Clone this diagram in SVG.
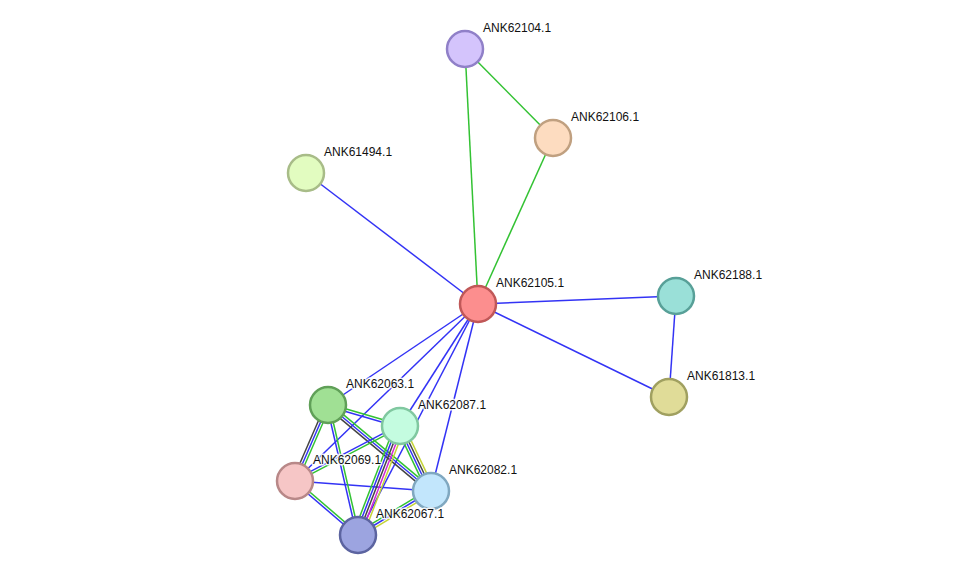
<svg xmlns="http://www.w3.org/2000/svg" width="975" height="581" viewBox="0 0 975 581">
<style>
line{stroke-width:1.5;fill:none}
.g{stroke:#33c233}.b{stroke:#3333f5}.k{stroke:#444444}.m{stroke:#d228d2}.y{stroke:#c4d436}
.node circle{stroke-width:2.5}
.lbl{font-family:"Liberation Sans",Arial,sans-serif;font-size:12px;fill:#111;stroke:#fff;stroke-width:3;stroke-opacity:0.85;paint-order:stroke;stroke-linejoin:round}
</style>
<rect width="975" height="581" fill="#fff"/>
<g id="connectors">
<line class="g" x1="478" y1="304" x2="465" y2="49"/>
<line class="g" x1="465" y1="49" x2="553" y2="138"/>
<line class="g" x1="553" y1="138" x2="478" y2="304"/>
<line class="b" x1="478" y1="304" x2="306" y2="173"/>
<line class="b" x1="478" y1="304" x2="676" y2="296"/>
<line class="b" x1="478" y1="304" x2="669" y2="397"/>
<line class="b" x1="676" y1="296" x2="669" y2="397"/>
<line class="b" x1="478" y1="304" x2="328" y2="405"/>
<line class="b" x1="478" y1="304" x2="295" y2="481"/>
<line class="b" x1="478" y1="304" x2="400" y2="426"/>
<line class="b" x1="478" y1="304" x2="358" y2="535"/>
<line class="b" x1="478" y1="304" x2="431" y2="491"/>
<line class="b" x1="295" y1="481" x2="431" y2="491"/>
<g transform="translate(328,405) rotate(16.26)"><line class="g" x1="0" y1="-1.25" x2="75" y2="-1.25"/><line class="b" x1="0" y1="1.25" x2="75" y2="1.25"/></g>
<g transform="translate(328,405) rotate(39.86)"><line class="g" x1="0" y1="-2.5" x2="134.2" y2="-2.5"/><line class="b" x1="0" y1="0" x2="134.2" y2="0"/><line class="k" x1="0" y1="2.5" x2="134.2" y2="2.5"/></g>
<g transform="translate(328,405) rotate(113.47)"><line class="g" x1="0" y1="-2.5" x2="82.9" y2="-2.5"/><line class="b" x1="0" y1="0" x2="82.9" y2="0"/><line class="k" x1="0" y1="2.5" x2="82.9" y2="2.5"/></g>
<g transform="translate(328,405) rotate(77.0)"><line class="g" x1="0" y1="-1.25" x2="133.4" y2="-1.25"/><line class="b" x1="0" y1="1.25" x2="133.4" y2="1.25"/></g>
<g transform="translate(400,426) rotate(152.35)"><line class="g" x1="0" y1="-1.25" x2="118.5" y2="-1.25"/><line class="b" x1="0" y1="1.25" x2="118.5" y2="1.25"/></g>
<g transform="translate(400,426) rotate(64.5)"><line class="y" x1="0" y1="-3.75" x2="72" y2="-3.75"/><line class="k" x1="0" y1="-1.25" x2="72" y2="-1.25"/><line class="b" x1="0" y1="1.25" x2="72" y2="1.25"/><line class="g" x1="0" y1="3.75" x2="72" y2="3.75"/></g>
<g transform="translate(400,426) rotate(111.07)"><line class="y" x1="0" y1="-5" x2="116.8" y2="-5"/><line class="m" x1="0" y1="-2.5" x2="116.8" y2="-2.5"/><line class="k" x1="0" y1="0" x2="116.8" y2="0"/><line class="b" x1="0" y1="2.5" x2="116.8" y2="2.5"/><line class="g" x1="0" y1="5" x2="116.8" y2="5"/></g>
<g transform="translate(295,481) rotate(40.6)"><line class="g" x1="0" y1="-1.25" x2="83" y2="-1.25"/><line class="b" x1="0" y1="1.25" x2="83" y2="1.25"/></g>
<g transform="translate(431,491) rotate(148.92)"><line class="y" x1="0" y1="-2.5" x2="85.2" y2="-2.5"/><line class="b" x1="0" y1="0" x2="85.2" y2="0"/><line class="g" x1="0" y1="2.5" x2="85.2" y2="2.5"/></g>
</g>
<g id="n62104" class="node"><circle cx="465" cy="49" r="18" fill="#d4c4fc" stroke="#9080c8"/></g>
<g id="n62106" class="node"><circle cx="553" cy="138" r="18" fill="#fddcc0" stroke="#c0a080"/></g>
<g id="n61494" class="node"><circle cx="306" cy="173" r="18" fill="#e2fcc0" stroke="#a8bc88"/></g>
<g id="n62105" class="node"><circle cx="478" cy="304" r="18" fill="#fc8e8e" stroke="#c05858"/></g>
<g id="n62188" class="node"><circle cx="676" cy="296" r="18" fill="#9ae0d8" stroke="#58a098"/></g>
<g id="n61813" class="node"><circle cx="669" cy="397" r="18" fill="#e0dc98" stroke="#a0a060"/></g>
<g id="n62063" class="node"><circle cx="328" cy="405" r="18" fill="#a0e094" stroke="#60a058"/></g>
<g id="n62087" class="node"><circle cx="400" cy="426" r="18" fill="#c4fce0" stroke="#80c8a0"/></g>
<g id="n62069" class="node"><circle cx="295" cy="481" r="18" fill="#f6c6c6" stroke="#b88888"/></g>
<g id="n62082" class="node"><circle cx="431" cy="491" r="18" fill="#c2e6fc" stroke="#80a8c0"/></g>
<g id="n62067" class="node"><circle cx="358" cy="535" r="18" fill="#9ca4e0" stroke="#5c64a0"/></g>
<g id="labels">
<text class="lbl" x="483" y="32">ANK62104.1</text>
<text class="lbl" x="571" y="121">ANK62106.1</text>
<text class="lbl" x="324" y="156">ANK61494.1</text>
<text class="lbl" x="496" y="287">ANK62105.1</text>
<text class="lbl" x="694" y="279">ANK62188.1</text>
<text class="lbl" x="687" y="380">ANK61813.1</text>
<text class="lbl" x="346" y="388">ANK62063.1</text>
<text class="lbl" x="418" y="409">ANK62087.1</text>
<text class="lbl" x="313" y="464">ANK62069.1</text>
<text class="lbl" x="449" y="474">ANK62082.1</text>
<text class="lbl" x="376" y="518">ANK62067.1</text>
</g>
</svg>
